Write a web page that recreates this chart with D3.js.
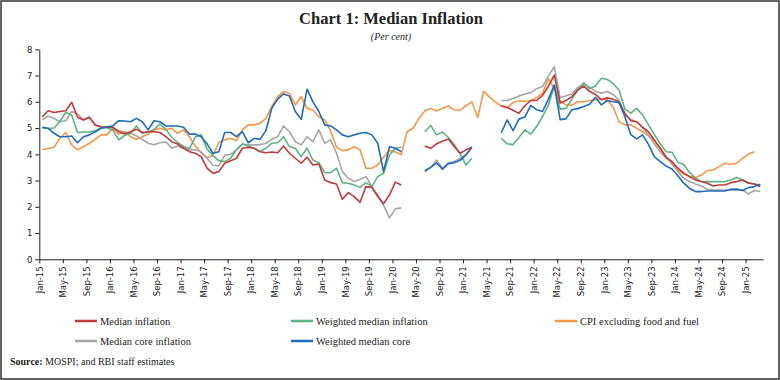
<!DOCTYPE html>
<html><head><meta charset="utf-8">
<script src="https://cdn.jsdelivr.net/npm/d3@7/dist/d3.min.js"></script>
<style>
html,body{margin:0;padding:0;background:#fff;}
svg{display:block;}
</style></head>
<body>
<svg id="chart" width="780" height="380"></svg>
<script>
// ---- DATA (Jan-15 .. Mar-25, monthly) ----
const startMonth = new Date(2015, 0, 1);
const endMonth = new Date(2025, 3, 1);
const tickLabels = ["Jan-15","May-15","Sep-15","Jan-16","May-16","Sep-16","Jan-17","May-17","Sep-17","Jan-18","May-18","Sep-18","Jan-19","May-19","Sep-19","Jan-20","May-20","Sep-20","Jan-21","May-21","Sep-21","Jan-22","May-22","Sep-22","Jan-23","May-23","Sep-23","Jan-24","May-24","Sep-24","Jan-25"];
const yTicks = [0,1,2,3,4,5,6,7,8];
const N = null;
const medianInflation = [5.43,5.66,5.59,5.63,5.66,5.98,5.41,5.31,5.41,5.12,
5.05,5.03,5.03,4.86,4.77,4.86,4.95,4.83,4.86,4.86,
4.83,4.67,4.48,4.39,4.23,4.1,4.04,3.91,3.47,3.28,
3.34,3.66,3.75,3.85,4.23,4.27,4.23,4.1,4.06,4.09,
4.06,4.32,4.04,3.85,3.66,3.89,3.59,3.63,3.02,2.92,
2.87,2.29,2.54,2.39,2.17,2.77,2.74,2.39,2.12,2.45,
2.94,2.83,N,N,N,4.32,4.23,4.4,4.5,4.58,
4.3,4.04,4.17,4.27,N,N,N,N,5.85,5.78,
5.68,5.56,5.85,6.05,6.05,6.24,6.6,7.02,5.95,6.05,
6.2,6.45,6.6,6.4,6.28,6.08,6.15,6.1,6.0,5.56,
5.28,5.24,5.03,4.86,4.55,4.23,3.89,3.72,3.47,3.28,
3.15,3.02,2.96,2.9,2.79,2.83,2.83,2.92,2.96,3.02,
2.9,2.87,2.77];
const weightedMedianInflation = [5.0,4.98,5.0,5.25,5.6,5.5,4.83,4.85,4.85,4.9,
5.0,5.0,4.92,4.55,4.72,4.8,5.08,4.8,4.85,4.95,
5.15,4.95,4.65,4.45,4.3,4.22,4.65,4.75,4.2,3.95,
3.76,3.72,3.85,4.17,4.39,4.32,4.23,4.1,4.23,4.42,
4.44,4.67,4.29,4.23,3.91,4.23,3.78,3.68,3.3,3.3,
3.47,2.92,2.9,2.83,2.74,2.92,2.77,3.15,3.28,3.97,
4.23,4.27,N,N,N,4.86,5.1,4.74,4.85,4.64,
4.37,4.03,3.59,3.85,N,N,N,N,4.61,4.4,
4.37,4.64,4.93,4.77,5.06,5.43,5.88,6.6,5.72,5.75,
6.1,6.45,6.72,6.5,6.6,6.9,6.85,6.7,6.45,5.72,
5.57,5.75,5.5,5.12,4.76,4.4,4.1,4.08,3.7,3.61,
3.3,3.09,2.96,2.96,2.96,2.96,2.96,3.02,3.12,3.02,
2.92,2.87,2.83];
const cpiExFoodFuel = [4.17,4.22,4.27,4.61,4.83,4.36,4.17,4.29,4.42,4.57,
4.74,4.74,4.99,4.77,4.86,4.67,4.57,4.67,4.77,4.93,
4.99,4.93,4.99,4.8,4.93,4.67,4.32,4.06,3.87,3.95,
4.45,4.55,4.61,4.52,4.93,5.12,5.12,5.18,5.37,5.82,
6.2,6.39,6.32,5.88,6.2,5.75,5.69,5.43,5.31,4.9,
4.27,4.14,4.17,4.29,4.17,3.47,3.47,3.59,3.89,4.15,
4.09,3.99,4.86,4.99,5.37,5.65,5.75,5.65,5.75,5.84,
5.69,5.67,5.85,6.0,5.4,6.4,6.18,5.99,5.84,5.77,
5.97,6.03,6.02,6.04,6.16,6.32,6.88,6.5,6.03,5.88,
5.88,6.0,6.0,6.05,6.08,6.1,6.07,5.8,5.24,5.12,
5.12,4.99,4.86,4.7,4.51,4.23,3.91,3.63,3.4,3.25,
3.15,3.12,3.21,3.38,3.4,3.53,3.66,3.62,3.66,3.85,
4.01,4.1,N];
const medianCoreInflation = [5.31,5.46,5.37,5.24,5.28,5.63,5.54,5.31,5.41,5.12,
5.03,5.03,4.99,4.9,4.86,4.8,4.7,4.57,4.42,4.36,
4.44,4.48,4.23,4.32,4.23,4.17,4.17,4.1,3.85,3.58,
3.56,3.97,4.0,4.17,4.39,4.36,4.36,4.36,4.42,4.57,
4.67,5.08,4.86,4.48,4.36,4.67,4.48,4.93,4.42,4.55,
4.04,3.34,3.09,2.96,3.05,3.15,2.77,2.45,2.05,1.58,
1.92,1.96,N,N,N,3.4,3.5,3.78,3.47,3.68,
3.72,3.85,4.0,4.25,N,N,N,N,6.05,6.05,
6.13,6.22,6.3,6.35,6.5,6.58,6.98,7.34,6.15,6.23,
6.3,6.55,6.67,6.56,6.4,6.33,6.39,6.28,6.07,5.5,
5.33,5.24,5.03,4.74,4.39,4.1,3.85,3.66,3.34,3.09,
2.96,2.87,2.79,2.67,2.64,2.64,2.64,2.64,2.62,2.64,
2.49,2.62,2.58];
const weightedMedianCore = [5.03,4.99,4.8,4.67,4.67,4.7,4.44,4.67,4.74,4.86,
4.99,5.05,5.08,5.28,5.27,5.24,5.37,5.24,4.93,5.28,
5.24,5.08,5.08,5.08,5.03,4.77,4.77,4.67,4.4,4.04,
4.1,4.83,4.83,4.67,4.86,4.44,4.61,4.57,4.9,5.75,
6.1,6.3,6.22,5.63,5.33,6.48,6.0,5.63,5.12,5.08,
4.93,4.74,4.67,4.74,4.8,4.83,4.74,4.42,3.34,4.29,
4.23,4.1,N,N,N,3.35,3.5,3.67,3.43,3.64,
3.68,3.77,3.97,4.27,N,N,N,N,4.82,5.31,
4.9,5.34,5.42,5.86,5.7,5.63,6.1,6.64,5.32,5.35,
5.7,5.74,5.82,5.91,6.17,5.88,6.05,6.0,5.97,5.43,
4.75,4.59,4.74,4.38,3.91,3.72,3.55,3.44,3.18,2.9,
2.7,2.58,2.58,2.6,2.6,2.6,2.6,2.67,2.68,2.62,
2.73,2.77,2.86];

const seriesNames = ["Median inflation","Weighted median inflation","CPI excluding food and fuel","Median core inflation","Weighted median core"];
const seriesColors = ["#C0393B","#5DB383","#F7964A","#A6A6A6","#1F6CB8"];
const seriesValues = [medianInflation, weightedMedianInflation, cpiExFoodFuel, medianCoreInflation, weightedMedianCore];
// drawing order (back to front)
const drawOrder = [2,3,1,0,4];

// ---- CHART ----
const months = d3.timeMonth.range(startMonth, endMonth);
const svg = d3.select("#chart");
const W = 780, H = 380;
const plot = {left: 39.3, right: 763.2, top: 49.3, bottom: 259.3};

svg.append("rect").attr("x",1).attr("y",1).attr("width",W-2).attr("height",H-2)
  .attr("fill","#fff").attr("stroke","#333").attr("stroke-width",1.5);

svg.append("text").attr("x",391).attr("y",24).attr("text-anchor","middle")
  .attr("font-family","Liberation Serif, serif").attr("font-weight","bold").attr("font-size",16.5)
  .attr("fill","#222").text("Chart 1: Median Inflation");
svg.append("text").attr("x",391).attr("y",40).attr("text-anchor","middle")
  .attr("font-family","Liberation Serif, serif").attr("font-style","italic").attr("font-size",10)
  .attr("fill","#222").text("(Per cent)");

const x = d3.scaleLinear().domain([0, months.length]).range([plot.left, plot.right]);
const y = d3.scaleLinear().domain([0, 8]).range([plot.bottom, plot.top]);

const tickIdx = tickLabels.map((_, k) => k * 4);
const xAxis = d3.axisBottom(x).tickValues(tickIdx).tickFormat((d, k) => tickLabels[k]).tickSize(4).tickSizeOuter(0);
const gx = svg.append("g").attr("transform", `translate(0,${plot.bottom})`).call(xAxis);
gx.select(".domain").attr("stroke","#222");
gx.selectAll(".tick line").attr("stroke","#222");
gx.selectAll(".tick text")
  .attr("font-family","DejaVu Sans, sans-serif").attr("font-size",8.5).attr("fill","#222")
  .attr("transform","rotate(-90)").attr("text-anchor","end")
  .attr("x",-7).attr("y",0).attr("dy","0.32em");

const yAxis = d3.axisLeft(y).tickValues(yTicks).tickSize(4).tickSizeOuter(0);
const gy = svg.append("g").attr("transform", `translate(${plot.left},0)`).call(yAxis);
gy.select(".domain").attr("stroke","#222");
gy.selectAll(".tick line").attr("stroke","#222");
gy.selectAll(".tick text").attr("font-family","DejaVu Sans, sans-serif").attr("font-size",8.5).attr("fill","#222").attr("x",-7);

const line = d3.line()
  .defined(d => d != null)
  .x((d, i) => x(i + 0.5))
  .y(d => y(d));

drawOrder.forEach(s => {
  svg.append("path").datum(seriesValues[s])
    .attr("fill","none").attr("stroke",seriesColors[s]).attr("stroke-width",1.6)
    .attr("stroke-linejoin","round").attr("d", line);
});

// legend
const legendPos = [[75,321],[291,321],[555,321],[75,341],[291,341]];
seriesNames.forEach((name, s) => {
  const [lx, ly] = legendPos[s];
  const g = svg.append("g").attr("transform", `translate(${lx},${ly})`);
  g.append("line").attr("x1",0).attr("x2",22).attr("y1",0).attr("y2",0)
    .attr("stroke",seriesColors[s]).attr("stroke-width",2.5);
  g.append("text").attr("x",25).attr("y",0).attr("dy","0.35em")
    .attr("font-family","Liberation Serif, serif").attr("font-size",10.5).attr("fill","#222").text(name);
});

const src = svg.append("text").attr("x",10).attr("y",365)
  .attr("font-family","Liberation Serif, serif").attr("font-size",10).attr("fill","#222");
src.append("tspan").attr("font-weight","bold").text("Source:");
src.append("tspan").text(" MOSPI; and RBI staff estimates");
</script>
</body></html>
